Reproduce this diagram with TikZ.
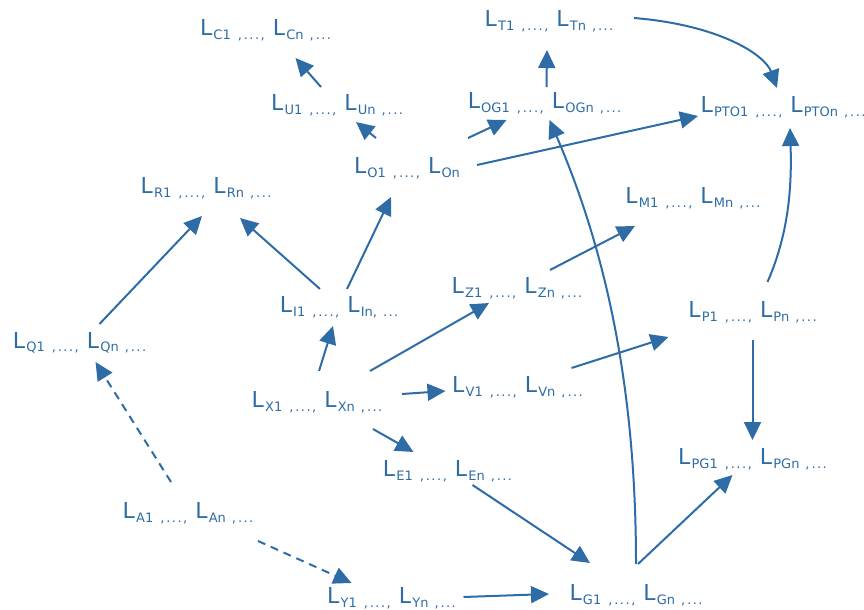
\documentclass[tikz,border=0pt]{standalone}
\usepackage{fontspec}
\setmainfont{DejaVu Sans}
\usetikzlibrary{arrows.meta}
\definecolor{lblue}{RGB}{46,108,165}
\newcommand{\low}[1]{\kern1.2bp\raisebox{-3.5bp}{\fontsize{13bp}{14bp}\selectfont #1}}
\newcommand{\dts}{,\kern2bp.\kern1.4bp.\kern1.4bp.}
\newcommand{\lst}[2]{L\low{#1\hspace{7bp}\dts\kern1.6bp,}\hspace{8bp}L\low{#2\hspace{6bp}\dts}}

\begin{document}
\begin{tikzpicture}[x=1bp,y=-1bp,
    lname/.style={text=lblue, inner sep=0pt, font=\fontsize{22bp}{24bp}\selectfont},
    arr/.style={draw=lblue, line width=2bp, -{Triangle[length=18bp,width=17bp]}},
    dsh/.style={arr, dash pattern=on 8bp off 6bp}]
    \useasboundingbox (0,0) rectangle (864,610);
    % les listes
    \node[lname] (C) at (265.5,30) {\lst{C1}{Cn}};
    \node[lname] (U) at (337,105) {\lst{U1}{Un}};
    \node[lname] (O) at (407,168) {L\low{O1\hspace{7bp}\dts\kern1.6bp,}\hspace{8bp}L\low{On}};
    \node[lname] (R) at (206,188) {\lst{R1}{Rn}};
    \node[lname] (T) at (549,21) {\lst{T1}{Tn}};
    \node[lname] (OG) at (544.5,103) {\lst{OG1}{OGn}};
    \node[lname] (PTO) at (783,107) {\lst{PTO1}{PTOn}};
    \node[lname] (M) at (693,198) {\lst{M1}{Mn}};
    \node[lname] (Z) at (517,288) {\lst{Z1}{Zn}};
    \node[lname] (I) at (339,307) {L\low{I1\hspace{7bp}\dts\kern1.6bp,}\hspace{8bp}L\low{In,\hspace{6bp}.\kern1.4bp.\kern1.4bp.}};
    \node[lname] (Q) at (79.5,343) {\lst{Q1}{Qn}};
    \node[lname] (P) at (752.5,312) {\lst{P1}{Pn}};
    \node[lname] (X) at (317,402) {\lst{X1}{Xn}};
    \node[lname] (V) at (517.5,387) {\lst{V1}{Vn}};
    \node[lname] (E) at (447.5,471) {\lst{E1}{En}};
    \node[lname] (PG) at (752.5,459) {\lst{PG1}{PGn}};
    \node[lname] (A) at (188,513) {\lst{A1}{An}};
    \node[lname] (Y) at (391.5,598) {\lst{Y1}{Yn}};
    \node[lname] (G) at (636,595) {\lst{G1}{Gn}};
    % fl\`eches
    \draw[arr] ([shift={(-16,-18)}]U.center) -- ([shift={(30,28)}]C.center);
    \draw[arr] ([shift={(-31,-30)}]O.center) -- ([shift={(19,17)}]U.center);
    \draw[arr] ([shift={(8,-18)}]I.center) -- ([shift={(-16,29)}]O.center);
    \draw[arr] ([shift={(-19,-18)}]I.center) -- ([shift={(34,30)}]R.center);
    \draw[arr] ([shift={(20,-19)}]Q.center) -- ([shift={(-4,28)}]R.center);
    \draw[arr] ([shift={(2,-31)}]X.center) -- ([shift={(-6,19)}]I.center);
    \draw[arr] ([shift={(53,-31)}]X.center) -- ([shift={(-28,15)}]Z.center);
    \draw[arr] ([shift={(85,-8)}]X.center) -- ([shift={(-72,4)}]V.center);
    \draw[arr] ([shift={(56,27)}]X.center) -- ([shift={(-34,-19)}]E.center);
    \draw[dsh] ([shift={(-17,-31)}]A.center) -- ([shift={(16,19)}]Q.center);
    \draw[dsh] ([shift={(70,28)}]A.center) -- ([shift={(-40,-15)}]Y.center);
    \draw[arr] ([shift={(72,-1)}]Y.center) -- ([shift={(-87,-1)}]G.center);
    \draw[arr] ([shift={(25,14)}]E.center) -- ([shift={(-46,-32)}]G.center);
    \draw[arr] ([shift={(2,-31)}]G.center) -- ([shift={(-20,16)}]PG.center);
    \draw[arr] ([shift={(0,-31)}]G.center) .. controls (636,400) and (610,260) .. ([shift={(5,17)}]OG.center);
    \draw[arr] ([shift={(61,-30)}]O.center) -- ([shift={(-38,17)}]OG.center);
    \draw[arr] ([shift={(2,-16)}]OG.center) -- ([shift={(-2,29)}]T.center);
    \draw[arr] ([shift={(70,-3)}]O.center) -- ([shift={(-85,9)}]PTO.center);
    \draw[arr] ([shift={(85,-3)}]T.center) .. controls (720,25) and (765,55) .. ([shift={(-6,-19)}]PTO.center);
    \draw[arr] ([shift={(15,-30)}]P.center) .. controls (788,235) and (792,190) .. ([shift={(7,21)}]PTO.center);
    \draw[arr] ([shift={(33,-18)}]Z.center) -- ([shift={(-58,28)}]M.center);
    \draw[arr] ([shift={(54,-19)}]V.center) -- ([shift={(-84,25)}]P.center);
    \draw[arr] ([shift={(0,28)}]P.center) -- ([shift={(0,-19)}]PG.center);
\end{tikzpicture}
\end{document}
